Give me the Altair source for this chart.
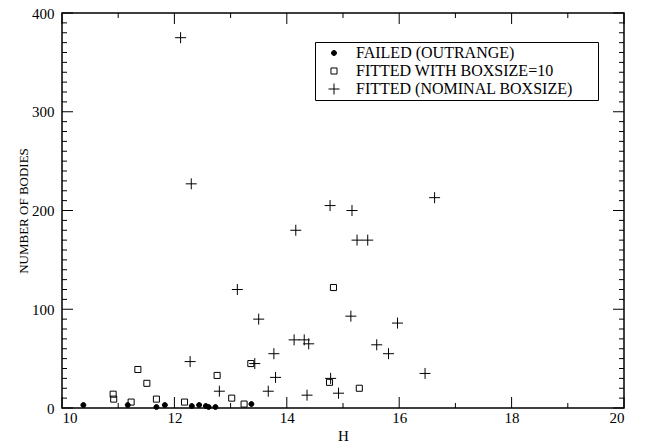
import altair as alt
import pandas as pd

# ---- data ----
failed_H = [10.38, 11.17, 11.68, 11.83, 12.31, 12.44, 12.56, 12.61, 12.73, 13.37]
failed_N = [3, 3, 1, 3, 2, 3, 2, 1, 1, 4]

box_H = [10.91, 10.92, 11.23, 11.35, 11.51, 11.68, 12.18, 12.76, 13.02, 13.24, 13.36, 14.76, 14.83, 15.29]
box_N = [14, 9, 6, 39, 25, 9, 6, 33, 10, 4, 45, 26, 122, 20]

nom_H = [12.11, 12.30, 12.28, 12.80, 13.12, 13.43, 13.50, 13.67, 13.77, 13.80, 14.13, 14.16,
         14.31, 14.39, 14.36, 14.77, 14.78, 14.92, 15.14, 15.16, 15.25, 15.44, 15.60, 15.81,
         15.97, 16.46, 16.63]
nom_N = [375, 227, 47, 17, 120, 45, 90, 17, 55, 31, 69, 180, 69, 65, 13, 205, 30, 15, 93,
         200, 170, 170, 64, 55, 86, 35, 213]

series = ["FAILED (OUTRANGE)", "FITTED WITH BOXSIZE=10", "FITTED (NOMINAL BOXSIZE)"]

x_major = [10, 12, 14, 16, 18, 20]
x_minor = [11, 13, 15, 17, 19]
y_major = [0, 100, 200, 300, 400]
y_minor = [v for v in range(10, 400, 10) if v % 100 != 0]

W, H = 562, 395
FONT = "Liberation Serif"

df = pd.concat([
    pd.DataFrame({"H": failed_H, "N": failed_N, "s": series[0]}),
    pd.DataFrame({"H": box_H, "N": box_N, "s": series[1]}),
    pd.DataFrame({"H": nom_H, "N": nom_N, "s": series[2]}),
], ignore_index=True)

xscale = alt.Scale(domain=[10, 20], nice=False, zero=False)
yscale = alt.Scale(domain=[0, 400], nice=False)

xaxis = alt.Axis(
    title="H", values=x_major, format="d", grid=False, domain=False,
    ticks=False, tickSize=0, labelFont=FONT, labelFontSize=15, labelColor="black",
    labelPadding=2, titleFont=FONT, titleFontSize=15, titleFontWeight="normal",
    titleColor="black", titleY=32, titleBaseline="alphabetic")
yaxis = alt.Axis(
    title="NUMBER OF BODIES", values=y_major, format="d", grid=False, domain=False,
    ticks=False, tickSize=0, labelFont=FONT, labelFontSize=15, labelColor="black",
    labelPadding=8, titleFont=FONT, titleFontSize=13, titleFontWeight="normal",
    titleColor="black", titleX=-35, titleY=H / 2, titleAngle=-90,
    titleBaseline="alphabetic", titleAlign="center")

circle_path = "M-0.45,0A0.45,0.45 0 1,0 0.45,0A0.45,0.45 0 1,0 -0.45,0Z"
square_path = "M-0.55,-0.55L0.55,-0.55L0.55,0.55L-0.55,0.55Z"
plus_path = "M-1,0L1,0M0,-1L0,1"

legend = alt.Legend(
    title="\u00a0", titleOrient="right", titlePadding=22, titleFontSize=1,
    orient="none", legendX=253, legendY=29,
    strokeColor="black", padding=3, fillColor="white",
    labelFont=FONT, labelFontSize=16, labelColor="black", labelLimit=500,
    symbolSize=121, symbolStrokeColor="black", symbolStrokeWidth=1,
    symbolOpacity=1, symbolOffset=8, labelOffset=14, rowPadding=2,
)

points = alt.Chart(df).mark_point(
    filled=False, strokeWidth=1, opacity=1, size=121
).encode(
    x=alt.X("H:Q", scale=xscale, axis=xaxis),
    y=alt.Y("N:Q", scale=yscale, axis=yaxis),
    shape=alt.Shape("s:N", scale=alt.Scale(domain=series, range=[circle_path, square_path, plus_path]),
                    legend=legend),
    fill=alt.Fill("s:N", scale=alt.Scale(domain=series, range=["black", "transparent", "transparent"]),
                  legend=legend),
    stroke=alt.Stroke("s:N", scale=alt.Scale(domain=series, range=["black", "black", "black"]),
                      legend=legend),
)


def xticks(vals, length, top):
    d = pd.DataFrame({"H": vals})
    y0, y1 = (0, length) if top else (H, H - length)
    return alt.Chart(d).mark_rule(color="black", strokeWidth=1).encode(
        x=alt.X("H:Q", scale=xscale, axis=xaxis), y=alt.value(y0), y2=alt.value(y1))


def yticks(vals, length, right):
    d = pd.DataFrame({"N": vals})
    x0, x1 = (W, W - length) if right else (0, length)
    return alt.Chart(d).mark_rule(color="black", strokeWidth=1).encode(
        y=alt.Y("N:Q", scale=yscale, axis=yaxis), x=alt.value(x0), x2=alt.value(x1))


ticks = [
    xticks(x_major, 11, False), xticks(x_minor, 5, False),
    xticks(x_major, 11, True), xticks(x_minor, 5, True),
    yticks(y_major, 11, False), yticks(y_minor, 5, False),
    yticks(y_major, 11, True), yticks(y_minor, 5, True),
]

chart = alt.layer(points, *ticks).properties(
    width=W, height=H,
    autosize=alt.AutoSizeParams(type="none"),
    padding={"left": 62, "top": 13, "right": 27, "bottom": 34},
    background="white",
).configure_view(stroke="black", strokeWidth=1.5).configure_legend(strokeWidth=1)

chart.save("out.html", embed_options={"renderer": "svg", "actions": False})
